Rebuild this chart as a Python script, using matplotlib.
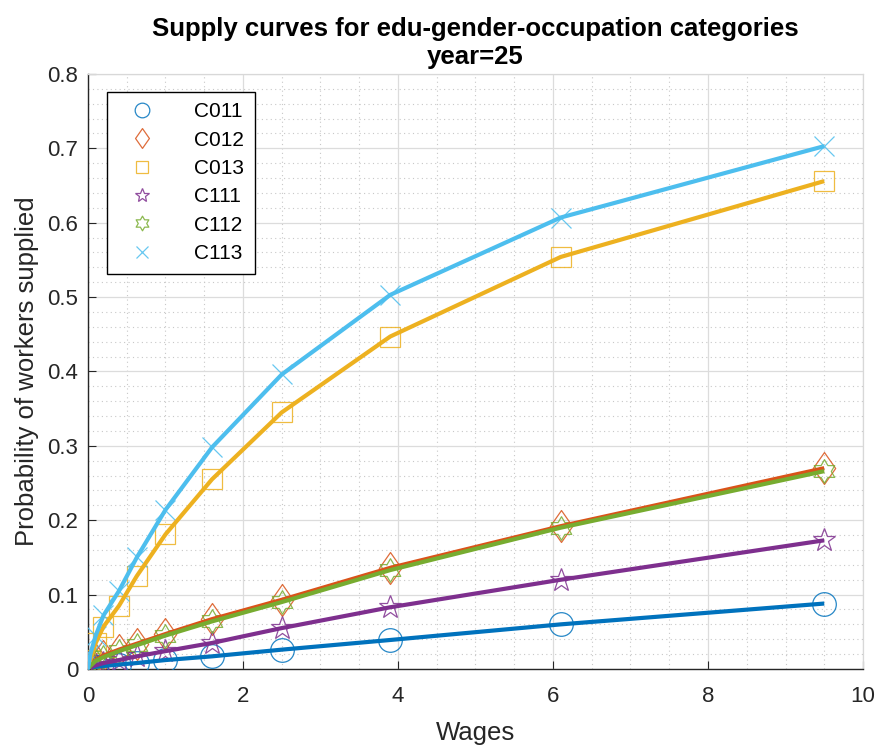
import matplotlib
matplotlib.use("Agg")
import numpy as np
import matplotlib.pyplot as plt
from matplotlib.path import Path
from matplotlib.ticker import MultipleLocator, FuncFormatter

plt.rcParams['font.family'] = ['Liberation Sans', 'DejaVu Sans']

wages = [0, 0.03, 0.1, 0.2, 0.4, 0.63, 1.0, 1.6, 2.5, 3.9, 6.1, 9.5]
categories = ["C011", "C012", "C013", "C111", "C112", "C113"]
C011 = [0, 0.001, 0.003, 0.004, 0.006, 0.008, 0.012, 0.017, 0.026, 0.039, 0.060, 0.088]
C012 = [0, 0.005, 0.012, 0.018, 0.026, 0.034, 0.047, 0.067, 0.093, 0.136, 0.192, 0.270]
C013 = [0, 0.012, 0.035, 0.057, 0.085, 0.125, 0.181, 0.255, 0.345, 0.447, 0.554, 0.656]
C111 = [0, 0.002, 0.005, 0.008, 0.012, 0.017, 0.024, 0.035, 0.055, 0.083, 0.120, 0.173]
C112 = [0, 0.004, 0.011, 0.016, 0.024, 0.032, 0.045, 0.064, 0.090, 0.133, 0.190, 0.266]
C113 = [0, 0.020, 0.045, 0.072, 0.105, 0.150, 0.214, 0.298, 0.396, 0.503, 0.607, 0.703]
series = [C011, C012, C013, C111, C112, C113]

# marker shapes (MATLAB-like diamond and hexagram)
diamond = Path([(0, 1), (0.7, 0), (0, -1), (-0.7, 0), (0, 1)],
               [Path.MOVETO, Path.LINETO, Path.LINETO, Path.LINETO, Path.CLOSEPOLY])
ang = np.pi / 2 + np.arange(12) * np.pi / 6
rad = np.where(np.arange(12) % 2 == 0, 1.0, 1 / np.sqrt(3))
hv = np.column_stack([rad * np.cos(ang), rad * np.sin(ang)])
hv = np.vstack([hv, hv[:1]])
hexagram = Path(hv, [Path.MOVETO] + [Path.LINETO] * 11 + [Path.CLOSEPOLY])

colors = ["#0072BD", "#D95319", "#EDB120", "#7E2F8E", "#77AC30", "#4DBEEE"]
markers = ["o", diamond, "s", "*", hexagram, "x"]
msizes = [17, 23, 14, 17, 17, 14]

fig = plt.figure(figsize=(8.79, 7.51), dpi=100)
ax = fig.add_axes([0.1001, 0.1092, 0.8817, 0.7923])

handles = []
for name, ys, c, m, ms in zip(categories, series, colors, markers, msizes):
    h, = ax.plot(wages, ys, linestyle='none', marker=m, markersize=ms,
                 markerfacecolor='none', markeredgecolor=c, markeredgewidth=0.9,
                 alpha=0.85, label=name, zorder=3)
    handles.append(h)
for ys, c in zip(series, colors):
    ax.plot(wages, ys, color=c, linewidth=3.0, solid_capstyle='butt', zorder=4)

ax.set_xlim(0, 10)
ax.set_ylim(0, 0.8)
ax.xaxis.set_major_locator(MultipleLocator(2))
ax.xaxis.set_minor_locator(MultipleLocator(0.5))
ax.yaxis.set_major_locator(MultipleLocator(0.1))
ax.yaxis.set_minor_locator(MultipleLocator(0.02))
ax.yaxis.set_major_formatter(FuncFormatter(lambda v, p: "0" if abs(v) < 1e-9 else f"{v:.1f}"))
ax.xaxis.set_major_formatter(FuncFormatter(lambda v, p: f"{v:g}"))

ax.grid(which='major', color='#dcdcdc', linewidth=0.9, linestyle='-')
ax.grid(which='minor', color='#c8c8c8', linewidth=0.8, linestyle=(0, (1, 3)))
ax.set_axisbelow(True)

for s in ['left', 'bottom']:
    ax.spines[s].set_color('#262626')
    ax.spines[s].set_linewidth(1.0)
for s in ['top', 'right']:
    ax.spines[s].set_color('#d8d8d8')
    ax.spines[s].set_linewidth(0.9)

ax.tick_params(which='major', direction='in', length=6, width=0.8, colors='#262626',
               labelsize=16, top=False, right=False)
ax.tick_params(which='minor', direction='in', length=0)
ax.tick_params(axis='x', pad=12)
ax.tick_params(axis='y', pad=7)

ax.set_xlabel("Wages", fontsize=18.5, color='#262626', labelpad=10)
ax.set_ylabel("Probability of workers supplied", fontsize=18.5, color='#262626', labelpad=6)
ax.set_title("Supply curves for edu-gender-occupation categories\nyear=25",
             fontsize=18.5, fontweight='bold', color='black', pad=7, linespacing=1.2)

leg = ax.legend(handles=handles, loc='upper left', bbox_to_anchor=(0.0245, 0.970),
                fontsize=15, markerscale=0.62, frameon=True, fancybox=False,
                edgecolor='black', framealpha=1, borderpad=0.5, labelspacing=0.45,
                handlelength=2.4, handletextpad=1.3, borderaxespad=0)
leg.get_frame().set_linewidth(1.0)

fig.savefig("out.png", dpi=100)
